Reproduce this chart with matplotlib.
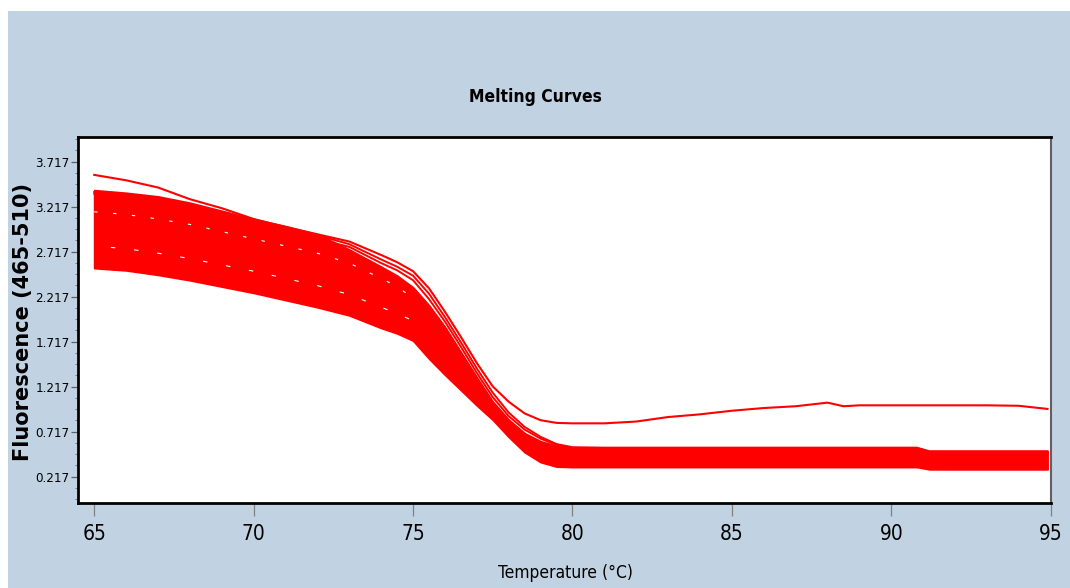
import numpy as np
import matplotlib.pyplot as plt
from matplotlib import font_manager as fm
from matplotlib.patches import Rectangle
from matplotlib.ticker import FixedLocator, AutoMinorLocator

# ---------------------------------------------------------------------------
# Data
# ---------------------------------------------------------------------------
temp = [65, 66, 67, 68, 69, 70, 71, 72, 73, 74, 74.5, 75, 75.5, 76, 76.5, 77,
        77.5, 78, 78.5, 79, 79.5, 80, 81, 82, 83, 84, 85, 86, 87, 88, 88.5, 89,
        90, 90.8, 91.2, 92, 93, 94, 94.9]

# single sample that stays high after melting
outlier = [3.57, 3.51, 3.43, 3.30, 3.20, 3.08, 2.99, 2.91, 2.83, 2.68, 2.60,
           2.50, 2.31, 2.05, 1.77, 1.48, 1.22, 1.05, 0.92, 0.845, 0.815, 0.81,
           0.81, 0.83, 0.88, 0.91, 0.95, 0.98, 1.00, 1.04, 1.00, 1.01, 1.01,
           1.01, 1.01, 1.01, 1.01, 1.005, 0.97]

# a couple of curves that run just above the main bundle
curve_b = [3.38, 3.35, 3.30, 3.23, 3.15, 3.06, 2.98, 2.90, 2.80, 2.63, 2.55,
           2.45, 2.25, 1.99, 1.71, 1.42, 1.15, 0.93, 0.77, 0.66, 0.58, 0.545,
           0.54, 0.54, 0.54, 0.54, 0.54, 0.54, 0.54, 0.54, 0.54, 0.54, 0.54,
           0.54, 0.50, 0.50, 0.50, 0.50, 0.50]
curve_c = [3.36, 3.32, 3.27, 3.19, 3.11, 3.03, 2.95, 2.86, 2.77, 2.59, 2.51,
           2.40, 2.19, 1.94, 1.66, 1.37, 1.10, 0.89, 0.74, 0.64, 0.57, 0.535,
           0.535, 0.535, 0.535, 0.535, 0.535, 0.535, 0.535, 0.535, 0.535,
           0.535, 0.535, 0.535, 0.495, 0.495, 0.495, 0.495, 0.495]

# envelope of the dense bundle of samples
band_upper = [3.40, 3.37, 3.33, 3.26, 3.17, 3.08, 3.00, 2.91, 2.74, 2.55, 2.45,
              2.32, 2.12, 1.88, 1.60, 1.32, 1.05, 0.85, 0.70, 0.61, 0.56, 0.535,
              0.535, 0.535, 0.535, 0.535, 0.535, 0.535, 0.535, 0.535, 0.535,
              0.535, 0.535, 0.535, 0.495, 0.495, 0.495, 0.495, 0.495]
band_lower = [2.535, 2.51, 2.46, 2.40, 2.33, 2.26, 2.18, 2.10, 2.01, 1.87, 1.81,
              1.73, 1.53, 1.35, 1.18, 1.01, 0.85, 0.66, 0.49, 0.38, 0.33, 0.325,
              0.325, 0.325, 0.325, 0.325, 0.325, 0.325, 0.325, 0.325, 0.325,
              0.325, 0.325, 0.325, 0.30, 0.30, 0.30, 0.30, 0.30]

# two samples inside the bundle (only the gaps between them show)
inner_1 = [3.16, 3.13, 3.08, 3.02, 2.94, 2.86, 2.78, 2.70, 2.59, 2.42, 2.33, 2.20]
inner_2 = [2.78, 2.75, 2.70, 2.64, 2.57, 2.50, 2.42, 2.34, 2.24, 2.10, 2.03, 1.95]

x_ticks = [65, 70, 75, 80, 85, 90, 95]
y_ticks = [0.217, 0.717, 1.217, 1.717, 2.217, 2.717, 3.217, 3.717]


# ---------------------------------------------------------------------------
# Fonts: the screenshot uses a very narrow face
# ---------------------------------------------------------------------------
def pick_narrow():
    cands = [("Liberation Sans Narrow", "normal"), ("DejaVu Sans", "condensed"),
             ("Roboto Condensed", "normal"), ("Open Sans Condensed", "normal"),
             ("Noto Sans", "condensed")]
    for fam, stretch in cands:
        try:
            path = fm.findfont(fm.FontProperties(family=fam, stretch=stretch),
                               fallback_to_default=False)
        except Exception:
            continue
        if "narrow" in path.lower() or "condensed" in path.lower():
            return fam, stretch
    return None


narrow = pick_narrow()
if narrow:
    NFONT = dict(family=narrow[0], stretch=narrow[1])
    SZ_YT, SZ_XT, SZ_T, SZ_XL = 9.5, 15, 12.5, 12.5
else:
    NFONT = dict(family="DejaVu Sans")
    SZ_YT, SZ_XT, SZ_T, SZ_XL = 8.5, 12.5, 11, 11

# ---------------------------------------------------------------------------
# Plot
# ---------------------------------------------------------------------------
BG = "#C1D3E3"
RED = "#FF0000"

fig = plt.figure(figsize=(10.7, 5.88), dpi=100, facecolor="white")
fig.patches.append(Rectangle((8 / 1070, 0), 1, 1 - 11 / 588,
                             transform=fig.transFigure, facecolor=BG,
                             edgecolor="none", zorder=-10))

ax = fig.add_axes([78 / 1070, 85 / 588, 973 / 1070, 366 / 588])
ax.set_facecolor("white")

ax.fill_between(temp, band_lower, band_upper, color=RED, lw=1.4, zorder=2)
ax.plot(temp[:12], inner_1, color="white", lw=0.8, ls=(0, (3, 14)), zorder=2.5)
ax.plot(temp[:12], inner_2, color="white", lw=0.8, ls=(6, (4, 17)), zorder=2.5)
ax.plot(temp, curve_c, color=RED, lw=1.4, zorder=3)
ax.plot(temp, curve_b, color=RED, lw=1.4, zorder=3)
ax.plot(temp, outlier, color=RED, lw=1.5, zorder=3)

ax.set_xlim(64.49, 95.01)
ax.set_ylim(-0.075, 3.991)

ax.xaxis.set_major_locator(FixedLocator(x_ticks))
ax.yaxis.set_major_locator(FixedLocator(y_ticks))
ax.yaxis.set_minor_locator(AutoMinorLocator(4))
ax.set_xticklabels([str(t) for t in x_ticks], fontsize=SZ_XT, **NFONT)
ax.set_yticklabels([f"{t:.3f}" for t in y_ticks], fontsize=SZ_YT, **NFONT)

ax.tick_params(axis="x", which="major", length=9, width=0.9, color="#808080",
               pad=6)
ax.tick_params(axis="y", which="major", length=5, width=0.9, color="#606060",
               pad=1)
ax.tick_params(axis="y", which="minor", length=2, width=0.8, color="#808080")

for side in ["left", "top", "bottom"]:
    ax.spines[side].set_color("black")
    ax.spines[side].set_linewidth(2)
ax.spines["right"].set_color("#606060")
ax.spines["right"].set_linewidth(1.5)

fig.text(0.5, 1 - 97 / 588, "Melting Curves", ha="center", va="center",
         fontweight="bold", fontsize=SZ_T, **NFONT)
fig.text(566 / 1070, 1 - 573 / 588, "Temperature (°C)", ha="center",
         va="center", fontsize=SZ_XL, **NFONT)
fig.text(23 / 1070, 1 - 322 / 588, "Fluorescence (465-510)", ha="center",
         va="center", rotation=90, fontweight="bold", fontsize=15)

fig.savefig("out.png", dpi=100, facecolor="white")
